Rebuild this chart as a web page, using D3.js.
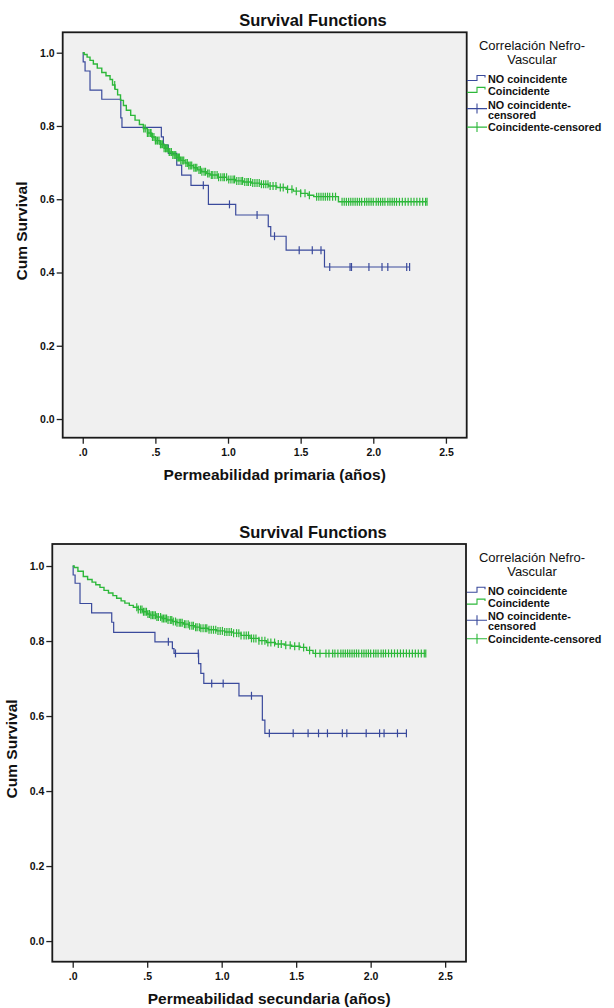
<!DOCTYPE html>
<html><head><meta charset="utf-8">
<script src="https://cdn.jsdelivr.net/npm/d3@7"></script>
<style>
html,body{margin:0;padding:0;background:#fff;}
svg text{font-family:"Liberation Sans",Arial,sans-serif;fill:#111;}
</style></head>
<body><svg id="c" width="614" height="1008"></svg>
<script>
// ---------- DATA ----------
const chartTitle = "Survival Functions";
const yAxisTitle = "Cum Survival";
const xAxisTitles = ["Permeabilidad primaria (años)", "Permeabilidad secundaria (años)"];
const legendTitle = ["Correlación Nefro-", "Vascular"];
const legendLabels = [["NO coincidente"], ["Coincidente"], ["NO coincidente-", "censored"], ["Coincidente-censored"]];
const xTickValues = [0, 0.5, 1.0, 1.5, 2.0, 2.5];
const xTickLabels = [".0", ".5", "1.0", "1.5", "2.0", "2.5"];
const yTickValues = [0, 0.2, 0.4, 0.6, 0.8, 1.0];
const yTickLabels = ["0.0", "0.2", "0.4", "0.6", "0.8", "1.0"];

// Chart 1 (primaria) - NO coincidente: event times and survival after each drop
const p1NoTimes = [0.003, 0.016, 0.05, 0.131, 0.262, 0.27, 0.541, 0.555, 0.589, 0.647, 0.681, 0.745, 0.865, 1.053, 1.277, 1.294, 1.40, 1.664];
const p1NoSurv  = [0.975, 0.950, 0.898, 0.873, 0.822, 0.796, 0.770, 0.748, 0.725, 0.693, 0.666, 0.638, 0.586, 0.557, 0.525, 0.499, 0.461, 0.415];
const p1NoCens  = [0.83, 1.01, 1.20, 1.32, 1.49, 1.58, 1.64, 1.70, 1.84, 1.85, 1.97, 2.06, 2.10, 2.23, 2.25];
// Chart 1 - Coincidente
const p1CoTimes = [0.01, 0.03, 0.05, 0.073, 0.10, 0.131, 0.16, 0.188, 0.205, 0.222, 0.24, 0.26, 0.28, 0.30, 0.33, 0.36, 0.39, 0.417, 0.445, 0.475, 0.50, 0.532, 0.56, 0.589, 0.62, 0.647, 0.675, 0.704, 0.73, 0.761, 0.79, 0.819, 0.85, 0.876, 0.93, 0.991, 1.05, 1.105, 1.16, 1.22, 1.28, 1.335, 1.40, 1.45, 1.50, 1.55, 1.59, 1.76];
const p1CoSurv  = [0.995, 0.988, 0.979, 0.969, 0.958, 0.946, 0.937, 0.927, 0.912, 0.900, 0.885, 0.870, 0.856, 0.843, 0.829, 0.816, 0.804, 0.793, 0.781, 0.770, 0.760, 0.750, 0.739, 0.729, 0.721, 0.714, 0.706, 0.699, 0.692, 0.686, 0.680, 0.675, 0.670, 0.666, 0.660, 0.654, 0.650, 0.647, 0.644, 0.641, 0.636, 0.632, 0.627, 0.622, 0.616, 0.611, 0.607, 0.593];
const p1CoCens  = [0.22, 0.42, 0.43, 0.445, 0.455, 0.465, 0.47, 0.48, 0.49, 0.50, 0.505, 0.515, 0.525, 0.535, 0.54, 0.55, 0.56, 0.57, 0.575, 0.585, 0.595, 0.60, 0.61, 0.62, 0.63, 0.64, 0.65, 0.66, 0.665, 0.675, 0.685, 0.695, 0.71, 0.72, 0.73, 0.74, 0.75, 0.765, 0.775, 0.785, 0.80, 0.81, 0.82, 0.835, 0.845, 0.86, 0.87, 0.885, 0.895, 0.91, 0.925, 0.935, 0.95, 0.965, 0.975, 0.99, 1.005, 1.02, 1.035, 1.045, 1.06, 1.075, 1.09, 1.10, 1.115, 1.13, 1.14, 1.155, 1.17, 1.185, 1.20, 1.215, 1.23, 1.245, 1.26, 1.275, 1.29, 1.31, 1.33, 1.36, 1.38, 1.41, 1.44, 1.47, 1.50, 1.53, 1.56, 1.61, 1.625, 1.64, 1.655, 1.67, 1.685, 1.70, 1.72, 1.74, 1.785, 1.80, 1.815, 1.83, 1.845, 1.86, 1.875, 1.89, 1.905, 1.92, 1.94, 1.955, 1.97, 1.985, 2.00, 2.02, 2.035, 2.05, 2.065, 2.08, 2.10, 2.115, 2.13, 2.145, 2.16, 2.18, 2.20, 2.22, 2.24, 2.26, 2.28, 2.30, 2.32, 2.34, 2.36, 2.37];

// Chart 2 (secundaria) - NO coincidente
const p2NoTimes = [0.003, 0.016, 0.049, 0.127, 0.262, 0.275, 0.552, 0.669, 0.68, 0.845, 0.86, 0.88, 1.116, 1.273, 1.29];
const p2NoSurv  = [0.976, 0.954, 0.900, 0.875, 0.850, 0.823, 0.798, 0.780, 0.767, 0.740, 0.714, 0.687, 0.654, 0.589, 0.554];
const p2NoCens  = [0.642, 0.69, 0.843, 0.933, 1.01, 1.20, 1.32, 1.48, 1.58, 1.65, 1.71, 1.81, 1.84, 1.97, 2.06, 2.09, 2.18, 2.24];
// Chart 2 - Coincidente
const p2CoTimes = [0.01, 0.035, 0.071, 0.10, 0.13, 0.155, 0.183, 0.21, 0.24, 0.27, 0.295, 0.325, 0.35, 0.38, 0.407, 0.44, 0.47, 0.50, 0.519, 0.56, 0.60, 0.631, 0.67, 0.70, 0.742, 0.78, 0.82, 0.854, 0.91, 0.966, 1.02, 1.078, 1.13, 1.19, 1.25, 1.30, 1.36, 1.42, 1.47, 1.526, 1.57, 1.613];
const p2CoSurv  = [0.996, 0.986, 0.972, 0.964, 0.957, 0.950, 0.943, 0.935, 0.928, 0.921, 0.914, 0.907, 0.901, 0.895, 0.890, 0.884, 0.878, 0.872, 0.869, 0.864, 0.860, 0.856, 0.852, 0.849, 0.845, 0.841, 0.837, 0.834, 0.830, 0.827, 0.824, 0.821, 0.815, 0.807, 0.801, 0.796, 0.792, 0.789, 0.786, 0.783, 0.775, 0.767];
const p2CoCens  = [0.43, 0.44, 0.455, 0.465, 0.475, 0.485, 0.495, 0.505, 0.515, 0.525, 0.535, 0.545, 0.555, 0.565, 0.575, 0.59, 0.60, 0.61, 0.62, 0.63, 0.64, 0.655, 0.665, 0.675, 0.69, 0.70, 0.715, 0.725, 0.735, 0.75, 0.76, 0.775, 0.785, 0.80, 0.81, 0.825, 0.835, 0.85, 0.86, 0.875, 0.89, 0.90, 0.915, 0.93, 0.945, 0.96, 0.975, 0.99, 1.005, 1.02, 1.035, 1.05, 1.065, 1.08, 1.10, 1.115, 1.13, 1.15, 1.165, 1.18, 1.20, 1.215, 1.23, 1.25, 1.27, 1.29, 1.31, 1.33, 1.355, 1.38, 1.40, 1.43, 1.46, 1.49, 1.52, 1.55, 1.59, 1.63, 1.66, 1.70, 1.72, 1.745, 1.76, 1.78, 1.80, 1.815, 1.83, 1.845, 1.86, 1.875, 1.89, 1.905, 1.92, 1.94, 1.955, 1.97, 1.985, 2.00, 2.02, 2.035, 2.05, 2.07, 2.085, 2.10, 2.12, 2.14, 2.16, 2.18, 2.20, 2.22, 2.24, 2.26, 2.28, 2.30, 2.32, 2.34, 2.36, 2.37];

// ---------- LAYOUT ----------
const colorNo = "#3a4a9c";
const colorCo = "#2db83a";
const charts = [
  {x0:62.7, x1:466.7, y0:32.3, y1:437.7, xd:[-0.138, 2.643], yd:[-0.051, 1.0557], titleY:20,
   xTitle:xAxisTitles[0], no:[p1NoTimes,p1NoSurv,p1NoCens], co:[p1CoTimes,p1CoSurv,p1CoCens]},
  {x0:52.3, x1:466, y0:544, y1:961.7, xd:[-0.137, 2.64], yd:[-0.055, 1.0587], titleY:532,
   xTitle:xAxisTitles[1], no:[p2NoTimes,p2NoSurv,p2NoCens], co:[p2CoTimes,p2CoSurv,p2CoCens]}
];

const svg = d3.select("#c");

function survAt(times, surv, t){
  let s = 1;
  for (let i=0;i<times.length;i++){ if (times[i] <= t) s = surv[i]; }
  return s;
}

charts.forEach(c => {
  const g = svg.append("g");
  const x = d3.scaleLinear().domain(c.xd).range([c.x0, c.x1]);
  const y = d3.scaleLinear().domain(c.yd).range([c.y1, c.y0]);

  g.append("rect").attr("x", c.x0).attr("y", c.y0).attr("width", c.x1-c.x0).attr("height", c.y1-c.y0)
    .attr("fill", "#f0f0f0");

  // axes
  const ya = d3.axisLeft(y).tickValues(yTickValues).tickFormat((d,i)=>yTickLabels[i]).tickSize(6).tickPadding(2);
  const yg = g.append("g").attr("transform", `translate(${c.x0},0)`).call(ya);
  const xa = d3.axisBottom(x).tickValues(xTickValues).tickFormat((d,i)=>xTickLabels[i]).tickSize(6).tickPadding(5);
  const xg = g.append("g").attr("transform", `translate(0,${c.y1})`).call(xa);
  [yg, xg].forEach(a => {
    a.select(".domain").remove();
    a.selectAll(".tick line").attr("stroke", "#222").attr("stroke-width", 1.3);
    a.selectAll(".tick text").attr("font-size", 10.5).attr("font-weight", "bold").attr("fill", "#222")
      .style("font-family", '"Liberation Sans", Arial, sans-serif');
  });

  // curves
  const stepLine = (times, surv, cens) => {
    const last = Math.max(times[times.length-1], d3.max(cens));
    let pts = [[0,1]];
    let s = 1;
    times.forEach((t,i)=>{ pts.push([t,s]); s = surv[i]; pts.push([t,s]); });
    pts.push([last, s]);
    return d3.line().x(d=>x(d[0])).y(d=>y(d[1]))(pts);
  };
  [[c.no, colorNo, 1.2], [c.co, colorCo, 1.4]].forEach(([ser, col, sw]) => {
    g.append("path").attr("d", stepLine(ser[0], ser[1], ser[2])).attr("fill","none")
      .attr("stroke", col).attr("stroke-width", sw);
    g.append("g").selectAll("line").data(ser[2]).join("line")
      .attr("x1", d=>x(d)).attr("x2", d=>x(d))
      .attr("y1", d=>y(survAt(ser[0], ser[1], d))-4)
      .attr("y2", d=>y(survAt(ser[0], ser[1], d))+4)
      .attr("stroke", col).attr("stroke-width", 1.2);
  });

  // frame
  g.append("rect").attr("x", c.x0).attr("y", c.y0).attr("width", c.x1-c.x0).attr("height", c.y1-c.y0)
    .attr("fill", "none").attr("stroke", "#1a1a1a").attr("stroke-width", 1.8);

  // titles
  g.append("text").attr("x", 313).attr("y", c.titleY).attr("text-anchor","middle").attr("dominant-baseline","central")
    .attr("font-size", 16.5).attr("font-weight","bold").text(chartTitle);
  g.append("text").attr("x", (c.x0+c.x1)/2 + 10).attr("y", c.y1 + 37).attr("text-anchor","middle")
    .attr("dominant-baseline","central").attr("font-size", 15.5).attr("font-weight","bold").text(c.xTitle);
  g.append("text").attr("transform", `translate(${c.x0-41},${(c.y0+c.y1)/2-4}) rotate(-90)`)
    .attr("text-anchor","middle").attr("dominant-baseline","central")
    .attr("font-size", 15.5).attr("font-weight","bold").text(yAxisTitle);

  // legend
  const lg = g.append("g");
  const ty = c.y0;
  lg.append("text").attr("x", 532).attr("y", ty+13.3).attr("text-anchor","middle").attr("dominant-baseline","central")
    .attr("font-size", 13).text(legendTitle[0]);
  lg.append("text").attr("x", 532).attr("y", ty+27.5).attr("text-anchor","middle").attr("dominant-baseline","central")
    .attr("font-size", 13).text(legendTitle[1]);
  const rows = [46.7, 58.6, 72.3, 94.8];
  legendLabels.forEach((lab, i) => {
    const yy = ty + rows[i];
    lab.forEach((s, j) => {
      lg.append("text").attr("x", 488).attr("y", yy + j*10).attr("dominant-baseline","central")
        .attr("font-size", 10.8).attr("font-weight","bold").text(s);
    });
    const col = (i % 2 === 0) ? colorNo : colorCo;
    if (i < 2) {
      lg.append("path").attr("d", `M467,${yy+1.5}H477V${yy-3.5}H485V${yy-1.5}`).attr("fill","none")
        .attr("stroke", col).attr("stroke-width", 1.1);
    } else {
      const sy = i === 2 ? yy + 4 : yy;
      lg.append("path").attr("d", `M467,${sy}H487M477,${sy-5}V${sy+5}`).attr("fill","none")
        .attr("stroke", col).attr("stroke-width", 1.1);
    }
  });
});
</script></body></html>
